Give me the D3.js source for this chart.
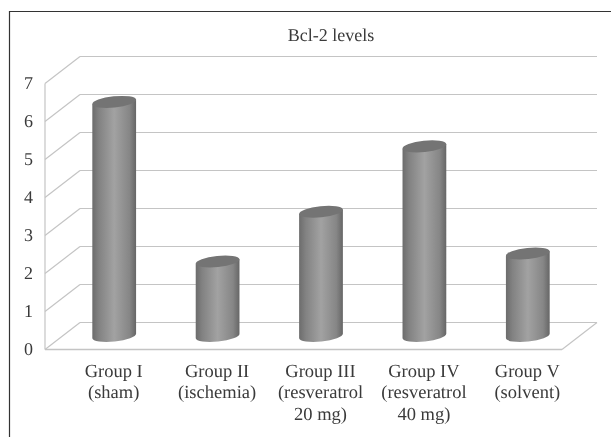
<!DOCTYPE html>
<html lang="en">
<head>
<meta charset="UTF-8">
<title>Bcl-2 levels</title>
<script src="https://d3js.org/d3.v7.min.js"></script>
<style>
    html, body { margin: 0; padding: 0; background: #fff; }
    svg { display: block; filter: blur(0.35px); }
    text { font-family: "Liberation Serif", serif; fill: #3a3a3a; text-rendering: geometricPrecision; }
</style>
</head>
<body>
<script>
    var groups = ["Group I", "Group II", "Group III", "Group IV", "Group V"];
    var notes = [["(sham)"], ["(ischemia)"], ["(resveratrol", "20 mg)"], ["(resveratrol", "40 mg)"], ["(solvent)"]];
    var values = [6.16, 1.96, 3.27, 4.99, 2.17];
    var ticks = [0, 1, 2, 3, 4, 5, 6, 7];

    var w = 611, h = 437;
    var left = 45, right = 562, bottom = 349.5, top7 = 83.5;
    var depthX = 35, depthY = -27;   // fake 3D floor depth
    var rx = 22, ry = 5.6, tilt = -6;

    var svg = d3.select("body").append("svg").attr("width", w).attr("height", h);

    // cylinder shading
    var grad = svg.append("defs").append("linearGradient").attr("id", "cyl");
    [[0, "#6c6c6c"], [0.15, "#828282"], [0.5, "#a2a2a2"], [0.85, "#868686"], [1, "#666666"]].forEach(function (s) {
        grad.append("stop").attr("offset", s[0]).attr("stop-color", s[1]);
    });

    // frame, only top and left show in the picture
    svg.append("path").attr("d", "M9.5," + h + "V11.5H" + w)
        .attr("fill", "none").attr("stroke", "#333").attr("stroke-width", 1.2);

    var x = d3.scaleBand().domain(groups).range([left, right]);
    var y = d3.scaleLinear().domain([0, 7]).range([bottom, top7]);
    var gridColor = "#c4c4c4";

    // back wall grid + side wall diagonals
    var grid = svg.append("g").attr("stroke", gridColor).attr("stroke-width", 1.2).attr("fill", "none");
    ticks.forEach(function (t) {
        grid.append("line")
            .attr("x1", left + depthX).attr("x2", right + depthX)
            .attr("y1", y(t) + depthY).attr("y2", y(t) + depthY);
        grid.append("line")
            .attr("x1", left).attr("x2", left + depthX)
            .attr("y1", y(t)).attr("y2", y(t) + depthY);
    });
    grid.append("line").attr("x1", left).attr("x2", left).attr("y1", y(7)).attr("y2", y(0));
    grid.append("line").attr("x1", left).attr("x2", right).attr("y1", y(0)).attr("y2", y(0)).attr("stroke-width", 1.6);
    grid.append("line").attr("x1", right).attr("x2", right + depthX).attr("y1", y(0)).attr("y2", y(0) + depthY);

    // y tick labels
    svg.append("g").selectAll("text").data(ticks).enter().append("text")
        .attr("x", 28.5).attr("y", function (d) { return y(d) + 5.5; })
        .attr("text-anchor", "middle").attr("font-size", 18)
        .text(function (d) { return d; });

    // cylinders
    var cy0 = y(0) + depthY / 2;
    var bars = svg.append("g").selectAll("g").data(values).enter().append("g")
        .attr("transform", function (d, i) {
            return "translate(" + (x(groups[i]) + x.bandwidth() / 2 + depthX / 2) + ",0)";
        });

    // tilted ellipse edge points
    var dx = rx * Math.cos(tilt * Math.PI / 180), dy = rx * Math.sin(tilt * Math.PI / 180);
    bars.append("path")
        .attr("fill", "url(#cyl)")
        .attr("d", function (d) {
            var top = cy0 - (y(0) - y(d));
            return "M" + (-dx) + "," + (top - dy) +
                "L" + (-dx) + "," + (cy0 - dy) +
                "A" + rx + "," + ry + " " + tilt + " 0 0 " + dx + "," + (cy0 + dy) +
                "L" + dx + "," + (top + dy) + "Z";
        });
    bars.append("ellipse")
        .attr("rx", rx).attr("ry", ry).attr("fill", "#747474")
        .attr("transform", function (d) {
            return "translate(0," + (cy0 - (y(0) - y(d))) + ") rotate(" + tilt + ")";
        });

    // title
    svg.append("text").attr("x", 331).attr("y", 40.5)
        .attr("text-anchor", "middle").attr("font-size", 18).text("Bcl-2 levels");

    // category labels
    var labels = svg.append("g").selectAll("text").data(groups).enter().append("text")
        .attr("text-anchor", "middle").attr("font-size", 18.5)
        .attr("transform", function (d) {
            return "translate(" + (x(d) + x.bandwidth() / 2 + depthX / 2 - 0.5) + ",376.5)";
        });
    labels.each(function (d, i) {
        var t = d3.select(this);
        [d].concat(notes[i]).forEach(function (line, j) {
            t.append("tspan").attr("x", 0).attr("y", j * 21.5).text(line);
        });
    });
</script>
</body>
</html>
